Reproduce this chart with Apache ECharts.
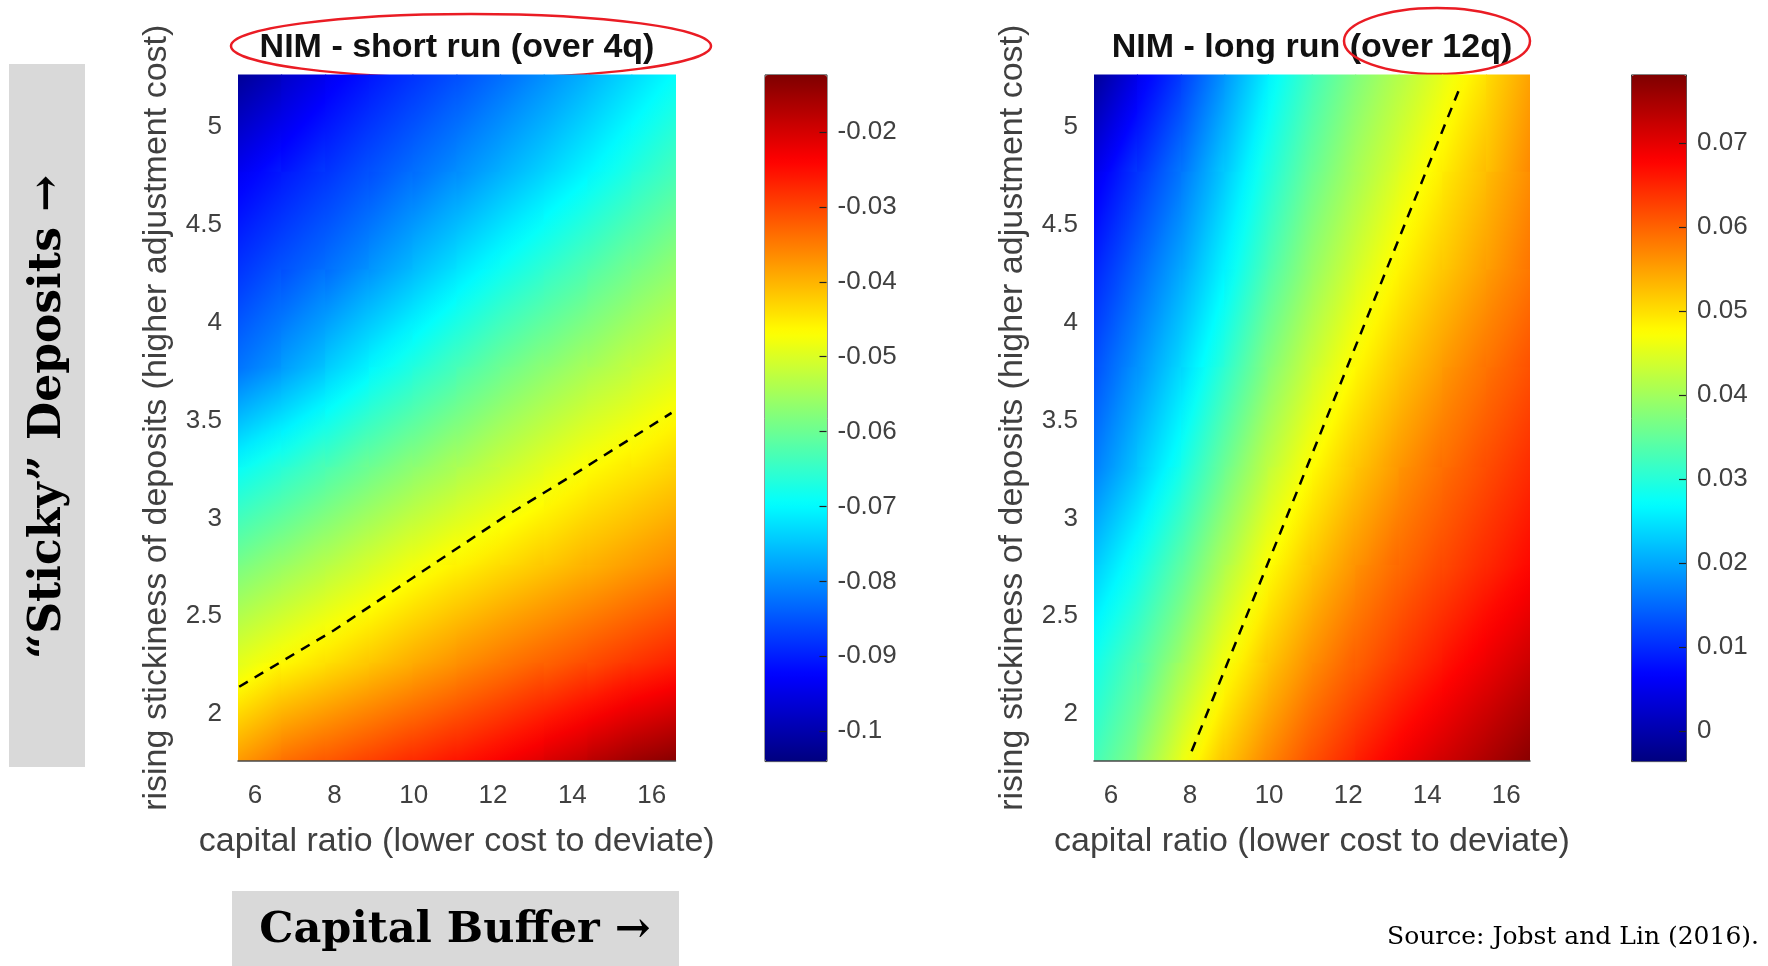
<!DOCTYPE html>
<html>
<head>
<meta charset="utf-8">
<title>NIM - short run vs long run</title>
<script src="https://cdn.jsdelivr.net/npm/echarts@6/dist/echarts.min.js"></script>
<style>
html, body { margin: 0; padding: 0; background: #fff; }
#chart { width: 1768px; height: 966px; }
</style>
</head>
<body>
<div id="chart"></div>
<script>
// sample positions of both surfaces (capital ratio across, stickiness down from the top row)
var capitalRatio = [5.57, 6.67, 7.78, 8.88, 9.98, 11.09, 12.19, 13.29, 14.39, 15.5, 16.6];
var stickiness = [5.27, 4.77, 4.27, 3.77, 3.26, 2.76, 2.26, 1.76];

// NIM - short run (over 4q), one row per stickiness value
var nimShort = [
    [-0.1022, -0.0980, -0.0939, -0.0907, -0.0881, -0.0855, -0.0828, -0.0799, -0.0765, -0.0730, -0.0696],
    [-0.0935, -0.0905, -0.0879, -0.0853, -0.0826, -0.0798, -0.0767, -0.0735, -0.0703, -0.0668, -0.0632],
    [-0.0877, -0.0851, -0.0825, -0.0793, -0.0757, -0.0720, -0.0685, -0.0654, -0.0623, -0.0591, -0.0565],
    [-0.0823, -0.0787, -0.0745, -0.0702, -0.0667, -0.0632, -0.0598, -0.0570, -0.0546, -0.0522, -0.0498],
    [-0.0692, -0.0660, -0.0628, -0.0597, -0.0569, -0.0542, -0.0517, -0.0492, -0.0466, -0.0448, -0.0429],
    [-0.0587, -0.0560, -0.0532, -0.0505, -0.0478, -0.0456, -0.0437, -0.0417, -0.0398, -0.0379, -0.0360],
    [-0.0490, -0.0463, -0.0439, -0.0416, -0.0392, -0.0368, -0.0345, -0.0326, -0.0306, -0.0285, -0.0265],
    [-0.0380, -0.0338, -0.0317, -0.0296, -0.0276, -0.0256, -0.0235, -0.0207, -0.0179, -0.0150, -0.0132]
];

// NIM - long run (over 12q)
var nimLong = [
    [-0.0020, 0.0050, 0.0115, 0.0185, 0.0262, 0.0322, 0.0375, 0.0415, 0.0455, 0.0500, 0.0553],
    [0.0052, 0.0108, 0.0160, 0.0230, 0.0295, 0.0356, 0.0404, 0.0448, 0.0490, 0.0528, 0.0567],
    [0.0095, 0.0147, 0.0202, 0.0262, 0.0332, 0.0392, 0.0440, 0.0485, 0.0519, 0.0553, 0.0585],
    [0.0131, 0.0185, 0.0240, 0.0306, 0.0378, 0.0432, 0.0482, 0.0519, 0.0556, 0.0588, 0.0614],
    [0.0167, 0.0225, 0.0286, 0.0360, 0.0423, 0.0479, 0.0519, 0.0560, 0.0591, 0.0618, 0.0645],
    [0.0230, 0.0282, 0.0346, 0.0410, 0.0476, 0.0519, 0.0563, 0.0595, 0.0621, 0.0648, 0.0674],
    [0.0285, 0.0337, 0.0397, 0.0470, 0.0520, 0.0568, 0.0602, 0.0633, 0.0664, 0.0694, 0.0722],
    [0.0324, 0.0377, 0.0462, 0.0520, 0.0573, 0.0614, 0.0653, 0.0689, 0.0717, 0.0745, 0.0774]
];

// dashed lines
var shortDashX = [5.6, 8, 10, 12.3, 14, 16.5];
var shortDashY = [2.14, 2.43, 2.70, 3.01, 3.22, 3.54];
var longDashX = [8.04, 10.75, 14.86];
var longDashY = [1.81, 3.16, 5.22];

// axes and colour bars
var xTicks = [6, 8, 10, 12, 14, 16];
var yTicks = [2, 2.5, 3, 3.5, 4, 4.5, 5];
var shortBarTicks = [-0.1, -0.09, -0.08, -0.07, -0.06, -0.05, -0.04, -0.03, -0.02];
var longBarTicks = [0, 0.01, 0.02, 0.03, 0.04, 0.05, 0.06, 0.07];
var shortRange = [-0.104, -0.0123];
var longRange = [-0.0036, 0.0782];

var JET = ['#00007f', '#0000ff', '#007fff', '#00ffff', '#7fff7f', '#ffff00', '#ff7f00', '#ff0000', '#7f0000'];
var JET_RGB = JET.map(function (c) {
    return [parseInt(c.substr(1, 2), 16), parseInt(c.substr(3, 2), 16), parseInt(c.substr(5, 2), 16)];
});

function jet(v, range) {
    var t = (v - range[0]) / (range[1] - range[0]);
    t = Math.max(0, Math.min(1, t)) * (JET_RGB.length - 1);
    var i = Math.min(Math.floor(t), JET_RGB.length - 2);
    var f = t - i;
    var a = JET_RGB[i], b = JET_RGB[i + 1];
    return 'rgb(' + Math.round(a[0] + (b[0] - a[0]) * f) + ',' +
        Math.round(a[1] + (b[1] - a[1]) * f) + ',' +
        Math.round(a[2] + (b[2] - a[2]) * f) + ')';
}

// one item per cell: x0, x1, yBottom, yTop, four corner values, mean
function buildCells(grid) {
    var cells = [];
    for (var r = 0; r < stickiness.length - 1; r++) {
        for (var c = 0; c < capitalRatio.length - 1; c++) {
            var tl = grid[r][c], tr = grid[r][c + 1], bl = grid[r + 1][c], br = grid[r + 1][c + 1];
            cells.push([capitalRatio[c], capitalRatio[c + 1], stickiness[r + 1], stickiness[r],
                tl, tr, bl, br, (tl + tr + bl + br) / 4]);
        }
    }
    return cells;
}

// interpolated shading inside each cell, like shading interp
function cellRenderer(range) {
    return function (params, api) {
        var pTL = api.coord([api.value(0), api.value(3)]);
        var pBR = api.coord([api.value(1), api.value(2)]);
        var tl = api.value(4), tr = api.value(5), bl = api.value(6), br = api.value(7);
        var w = pBR[0] - pTL[0], h = pBR[1] - pTL[1];
        var gx = ((tr - tl) + (br - bl)) / 2 / w;
        var gy = ((bl - tl) + (br - tr)) / 2 / h;
        var cx = pTL[0] + w / 2, cy = pTL[1] + h / 2;
        var vc = (tl + tr + bl + br) / 4;
        var g = Math.sqrt(gx * gx + gy * gy);
        var fill;
        if (g < 1e-12) {
            fill = jet(vc, range);
        } else {
            var ux = gx / g, uy = gy / g;
            var L = (Math.abs(ux) * w + Math.abs(uy) * h) / 2;
            var stops = [];
            for (var k = 0; k <= 6; k++) {
                var f = k / 6;
                stops.push({offset: f, color: jet(vc + g * L * (2 * f - 1), range)});
            }
            fill = {type: 'linear', x: cx - ux * L, y: cy - uy * L, x2: cx + ux * L, y2: cy + uy * L,
                global: true, colorStops: stops};
        }
        return {
            type: 'rect',
            shape: {x: pTL[0] - 0.5, y: pTL[1] - 0.5, width: w + 1, height: h + 1},
            style: {fill: fill}
        };
    };
}

function pairs(xs, ys) {
    return xs.map(function (x, i) { return [x, ys[i]]; });
}

var LABEL = '#404040';
var SANS = 'Liberation Sans';

function plotX(idx) {
    return {
        gridIndex: idx, type: 'value', min: 5.57, max: 16.6, z: 10,
        axisLine: {show: true, onZero: false, lineStyle: {color: '#4a4a4a', width: 1.5}},
        axisTick: {show: false},
        splitLine: {show: false},
        axisLabel: {customValues: xTicks, margin: 22, fontSize: 26, color: LABEL, fontFamily: SANS},
        name: 'capital ratio (lower cost to deviate)',
        nameLocation: 'middle', nameGap: 64,
        nameTextStyle: {fontSize: 34, color: LABEL, fontFamily: SANS}
    };
}
function plotY(idx) {
    return {
        gridIndex: idx, type: 'value', min: 1.76, max: 5.27, z: 10,
        axisLine: {show: false, onZero: false},
        axisTick: {show: false},
        splitLine: {show: false},
        axisLabel: {customValues: yTicks, margin: 16, fontSize: 26, color: LABEL, fontFamily: SANS},
        name: 'rising stickiness of deposits (higher adjustment cost)',
        nameLocation: 'middle', nameGap: 64,
        nameTextStyle: {fontSize: 34, color: LABEL, fontFamily: SANS}
    };
}
function barX(idx) {
    return {gridIndex: idx, type: 'value', min: 0, max: 1, show: false};
}
function barY(idx, range, ticks) {
    return {
        gridIndex: idx, type: 'value', position: 'right', min: range[0], max: range[1], z: 10,
        axisLine: {show: false, onZero: false},
        axisTick: {show: true, inside: false, length: -7, customValues: ticks,
            lineStyle: {color: '#222', width: 1.2}},
        splitLine: {show: false},
        axisLabel: {customValues: ticks, margin: 11, fontSize: 26, color: LABEL, fontFamily: SANS,
            formatter: function (v) { return String(v); }}
    };
}

var myChart = echarts.init(document.getElementById('chart'));
myChart.setOption({
    backgroundColor: '#fff',
    animation: false,
    textStyle: {fontFamily: SANS},
    grid: [
        {left: 238, top: 74.4, width: 437.5, height: 686.7, outerBoundsMode: 'none'},
        {left: 1094, top: 74.4, width: 436, height: 686.7, outerBoundsMode: 'none'},
        {left: 764.5, top: 74.4, width: 62, height: 686.7, outerBoundsMode: 'none'},
        {left: 1631, top: 74.4, width: 55, height: 686.7, outerBoundsMode: 'none'}
    ],
    xAxis: [plotX(0), plotX(1), barX(2), barX(3)],
    yAxis: [plotY(0), plotY(1), barY(2, shortRange, shortBarTicks), barY(3, longRange, longBarTicks)],
    visualMap: [
        {type: 'continuous', seriesIndex: 0, dimension: 8, min: shortRange[0], max: shortRange[1],
            calculable: false, hoverLink: false, left: 764.5, top: 74.4, itemWidth: 62, itemHeight: 686.7,
            padding: 0, borderColor: '#333', borderWidth: 1, inRange: {color: JET}},
        {type: 'continuous', seriesIndex: 1, dimension: 8, min: longRange[0], max: longRange[1],
            calculable: false, hoverLink: false, left: 1631, top: 74.4, itemWidth: 55, itemHeight: 686.7,
            padding: 0, borderColor: '#333', borderWidth: 1, inRange: {color: JET}}
    ],
    series: [
        {type: 'custom', xAxisIndex: 0, yAxisIndex: 0, clip: true, silent: true,
            encode: {x: [0, 1], y: [2, 3]},
            renderItem: cellRenderer(shortRange), data: buildCells(nimShort)},
        {type: 'custom', xAxisIndex: 1, yAxisIndex: 1, clip: true, silent: true,
            encode: {x: [0, 1], y: [2, 3]},
            renderItem: cellRenderer(longRange), data: buildCells(nimLong)},
        {type: 'line', xAxisIndex: 0, yAxisIndex: 0, showSymbol: false, silent: true, z: 5,
            lineStyle: {color: '#000', width: 2.5, type: [10, 8]}, data: pairs(shortDashX, shortDashY)},
        {type: 'line', xAxisIndex: 1, yAxisIndex: 1, showSymbol: false, silent: true, z: 5,
            lineStyle: {color: '#000', width: 2.5, type: [10, 8]}, data: pairs(longDashX, longDashY)}
    ],
    graphic: [
        {type: 'rect', shape: {x: 9, y: 64, width: 76, height: 703}, style: {fill: '#d9d9d9'}},
        {type: 'text', x: 49, y: 417, rotation: Math.PI / 2,
            style: {text: '\u201cSticky\u201d Deposits \u2192', fontSize: 44, fontWeight: 'bold',
                fontFamily: 'DejaVu Serif', fill: '#000', align: 'center', verticalAlign: 'middle'}},
        {type: 'rect', shape: {x: 232, y: 891, width: 447, height: 80}, style: {fill: '#d9d9d9'}},
        {type: 'text', x: 455, y: 931,
            style: {text: 'Capital Buffer \u2192', fontSize: 43, fontWeight: 'bold',
                fontFamily: 'DejaVu Serif', fill: '#000', align: 'center', verticalAlign: 'middle'}},
        {type: 'text', x: 1759, y: 937,
            style: {text: 'Source: Jobst and Lin (2016).', fontSize: 25, fontFamily: 'DejaVu Serif',
                fill: '#000', align: 'right', verticalAlign: 'middle'}},
        {type: 'text', x: 457, y: 48,
            style: {text: 'NIM - short run (over 4q)', fontSize: 34, fontWeight: 'bold',
                fontFamily: SANS, fill: '#111', align: 'center', verticalAlign: 'middle'}},
        {type: 'text', x: 1312, y: 48,
            style: {text: 'NIM - long run (over 12q)', fontSize: 34, fontWeight: 'bold',
                fontFamily: SANS, fill: '#111', align: 'center', verticalAlign: 'middle'}},
        {type: 'ellipse', shape: {cx: 471, cy: 46, rx: 240, ry: 32},
            style: {fill: null, stroke: '#ea1c24', lineWidth: 2.5}},
        {type: 'ellipse', shape: {cx: 1437, cy: 41, rx: 93, ry: 33},
            style: {fill: null, stroke: '#ea1c24', lineWidth: 2.5}}
    ]
});
</script>
</body>
</html>
